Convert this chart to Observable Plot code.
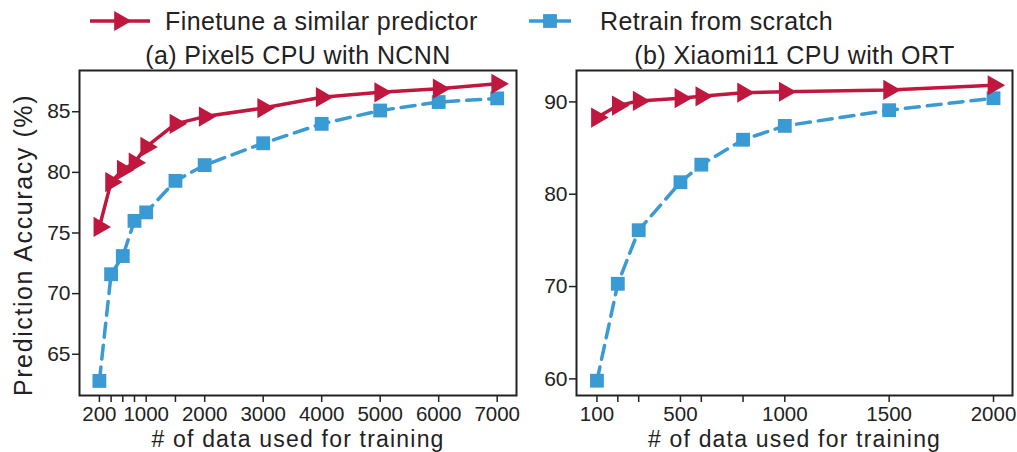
<!DOCTYPE html>
<html>
<head>
<meta charset="utf-8">
<script src="https://cdn.jsdelivr.net/npm/d3@7"></script>
<script src="https://cdn.jsdelivr.net/npm/@observablehq/plot@0.6"></script>
<style>
  html, body { margin: 0; padding: 0; background: #fff; }
  body { width: 1017px; height: 452px; position: relative; overflow: hidden; font-family: "Liberation Sans", Arial, sans-serif; color: #222; }
  #legend { position: absolute; left: 0; top: 0; width: 1017px; height: 40px; }
  #left { position: absolute; left: 0; top: 40px; }
  #right { position: absolute; left: 520px; top: 40px; }
</style>
</head>
<body>
<div id="legend"></div>
<div id="left"></div>
<div id="right"></div>
<script>
// ---- data ----
const seriesNames = ["Finetune a similar predictor", "Retrain from scratch"];
const leftTitle = "(a) Pixel5 CPU with NCNN";
const rightTitle = "(b) Xiaomi11 CPU with ORT";
const xLabel = "# of data used for training";
const yLabel = "Prediction Accuracy (%)";

const leftX = [200, 400, 600, 800, 1000, 1500, 2000, 3000, 4000, 5000, 6000, 7000];
const leftFinetune = [75.5, 79.2, 80.2, 80.8, 82.1, 84.0, 84.6, 85.3, 86.2, 86.6, 86.9, 87.3];
const leftRetrain = [62.8, 71.6, 73.1, 76.0, 76.7, 79.3, 80.6, 82.4, 84.0, 85.1, 85.8, 86.1];
const leftXLabels = [200, 1000, 2000, 3000, 4000, 5000, 6000, 7000];
const leftYTicks = [65, 70, 75, 80, 85];

const rightX = [100, 200, 300, 500, 600, 800, 1000, 1500, 2000];
const rightFinetune = [88.3, 89.6, 90.1, 90.4, 90.6, 91.0, 91.1, 91.3, 91.8];
const rightRetrain = [59.8, 70.3, 76.1, 81.3, 83.2, 85.9, 87.4, 89.1, 90.4];
const rightXLabels = [100, 500, 1000, 1500, 2000];
const rightYTicks = [60, 70, 80, 90];

// ---- styles ----
const RED = "#c0173f";
const BLUE = "#3a9ad3";
const FONT = "'Liberation Sans', Arial, sans-serif";

function makePanel({xs, fin, ret, xLabels, yTicks, title, xDomain, yDomain, width, marginLeft, marginRight, showYLabel}) {
  const finData = xs.map((x, i) => ({x, y: fin[i]}));
  const retData = xs.map((x, i) => ({x, y: ret[i]}));
  const marks = [
    Plot.frame({stroke: "#222", strokeWidth: 2}),
    Plot.axisX(xs, {tickSize: 7, tickPadding: 4, tickFormat: d => xLabels.includes(d) ? String(d) : "", label: null, fontSize: 20.5, stroke: "#222", strokeWidth: 1.5}),
    Plot.axisY(yTicks, {tickSize: 7, tickPadding: 2, label: null, fontSize: 21, stroke: "#222", strokeWidth: 1.5}),
    Plot.line(retData, {x: "x", y: "y", stroke: BLUE, strokeWidth: 3.5, strokeDasharray: "14,8"}),
    Plot.dot(retData, {x: "x", y: "y", symbol: "square", r: 7.8, fill: BLUE, stroke: "none"}),
    Plot.line(finData, {x: "x", y: "y", stroke: RED, strokeWidth: 3.5}),
    Plot.dot(finData, {x: "x", y: "y", symbol: "triangle", rotate: 90, r: 7.5, fill: RED, stroke: "none"}),
    Plot.text([title], {frameAnchor: "top", lineAnchor: "middle", dy: -15, fontSize: 25, fill: "#222"}),
    Plot.text([xLabel], {frameAnchor: "bottom", lineAnchor: "middle", dy: 44, fontSize: 23, fill: "#222"})
  ];
  if (showYLabel) marks.push(Plot.text([yLabel], {frameAnchor: "left", textAnchor: "middle", lineAnchor: "middle", dx: -56, dy: 12, rotate: -90, fontSize: 25, fill: "#222"}));
  const svg = Plot.plot({
    width, height: 412,
    marginLeft, marginRight, marginTop: 30, marginBottom: 57,
    x: {domain: xDomain},
    y: {domain: yDomain},
    style: {fontFamily: FONT, fontSize: "21px", color: "#222", background: "transparent", overflow: "visible"},
    marks
  });
  // letter spacing to match the wider lettering of the reference
  d3.select(svg).selectAll("text").each(function() {
    const t = this.textContent;
    if (t === yLabel) this.style.letterSpacing = "1.6px";
    else if (t === title) this.style.letterSpacing = "0.4px";
    else if (t === xLabel) this.style.letterSpacing = "1.2px";
  });
  return svg;
}

document.getElementById("left").append(makePanel({
  xs: leftX, fin: leftFinetune, ret: leftRetrain, xLabels: leftXLabels, yTicks: leftYTicks,
  title: leftTitle, xDomain: [-140, 7330], yDomain: [61.6, 88.4],
  width: 520, marginLeft: 79, marginRight: 4, showYLabel: true
}));
document.getElementById("right").append(makePanel({
  xs: rightX, fin: rightFinetune, ret: rightRetrain, xLabels: rightXLabels, yTicks: rightYTicks,
  title: rightTitle, xDomain: [2, 2091], yDomain: [58.2, 93.4],
  width: 497, marginLeft: 56, marginRight: 5, showYLabel: false
}));

// ---- legend ----
const legendItems = [
  {name: seriesNames[0], color: RED, symbol: d3.symbolTriangle, rotate: 90, x0: 90, x1: 150, tx: 165, size: 7.5},
  {name: seriesNames[1], color: BLUE, symbol: d3.symbolSquare, rotate: 0, x0: 529, x1: 571, tx: 600, size: 7.8}
];
const lsvg = d3.select("#legend").append("svg").attr("width", 1017).attr("height", 40)
  .style("font-family", FONT);
for (const it of legendItems) {
  const cy = 21, cx = (it.x0 + it.x1) / 2;
  lsvg.append("line").attr("x1", it.x0).attr("x2", it.x1).attr("y1", cy).attr("y2", cy)
    .attr("stroke", it.color).attr("stroke-width", 3.5);
  lsvg.append("path").attr("d", d3.symbol(it.symbol, Math.PI * it.size * it.size)())
    .attr("transform", `translate(${cx},${cy}) rotate(${it.rotate})`).attr("fill", it.color);
  lsvg.append("text").attr("x", it.tx).attr("y", cy).attr("dy", "0.35em")
    .attr("font-size", 25).style("letter-spacing", "0.4px").attr("fill", "#222").text(it.name);
}
</script>
</body>
</html>
